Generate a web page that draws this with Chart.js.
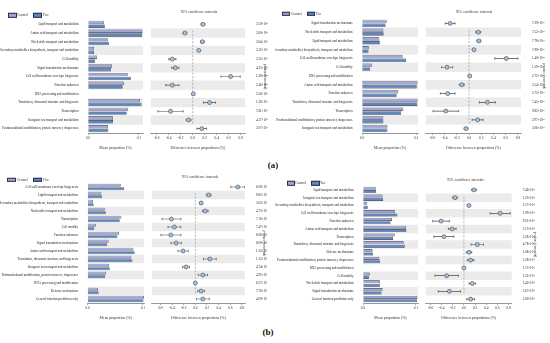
<!DOCTYPE html>
<html>
<head>
<meta charset="utf-8">
<script src="https://cdn.jsdelivr.net/npm/chart.js@4.4.1/dist/chart.umd.min.js"></script>
<style>
  html, body { margin: 0; padding: 0; background: #fff; }
  body { width: 550px; height: 343px; position: relative; overflow: hidden; font-family: 'Liberation Serif', serif; color: #333; }
  canvas { position: absolute; }
  .txt { position: absolute; white-space: nowrap; transform: translate(0, -50%); }
  .sw { position: absolute; width: 6.6px; height: 2.4px; border: 0.6px solid #2d2d4d; transform: translate(0, -50%); }
  .small { font-size: 3.6px; line-height: 4px; }
  .tag { font-size: 9px; font-weight: bold; color: #111; transform: translate(-50%, -50%); }
  .ctr { transform: translate(-50%, -50%); }
</style>
</head>
<body>
<script>
// ---- (a) left: Control vs Fire ----
var catsA1 = ['Lipid transport and metabolism', 'Amino acid transport and metabolism', 'Nucleotide transport and metabolism',
  'Secondary metabolites biosynthesis, transport and catabolism', 'Cell motility', 'Signal transduction mechanisms',
  'Cell wall/membrane/envelope biogenesis', 'Function unknown', 'RNA processing and modification',
  'Translation, ribosomal structure and biogenesis', 'Transcription', 'Inorganic ion transport and metabolism',
  'Posttranslational modification, protein turnover, chaperones'];
var controlA1 = [0.031, 0.107, 0.039, 0.012, 0.018, 0.047, 0.078, 0.071, 0.0004, 0.102, 0.079, 0.049, 0.039];
var fireA1 = [0.033, 0.106, 0.041, 0.012, 0.014, 0.045, 0.084, 0.068, 0.0004, 0.105, 0.076, 0.049, 0.040];
var diffA1 = [0.17, -0.13, 0.16, 0.10, -0.34, -0.29, 0.63, -0.34, 0.01, 0.28, -0.37, -0.07, 0.15];
var ciA1 = [0.03, 0.03, 0.03, 0.02, 0.06, 0.06, 0.16, 0.11, 0.005, 0.10, 0.21, 0.04, 0.08];
var pA1 = ['3.59×10⁻⁵', '2.60×10⁻⁵', '3.64×10⁻⁵', '3.32×10⁻⁵', '3.35×10⁻³', '4.23×10⁻³', '1.28×10⁻³',
  '2.48×10⁻³', '2.56×10⁻¹', '1.36×10⁻³', '7.61×10⁻³', '4.37×10⁻³', '2.07×10⁻³'];

// ---- (a) right: Control vs Tea ----
var catsA2 = ['Signal transduction mechanisms', 'Nucleotide transport and metabolism', 'Lipid transport and metabolism',
  'Secondary metabolites biosynthesis, transport and catabolism', 'Cell wall/membrane/envelope biogenesis', 'Cell motility',
  'RNA processing and modification', 'Amino acid transport and metabolism', 'Function unknown',
  'Translation, ribosomal structure and biogenesis', 'Transcription',
  'Posttranslational modification, protein turnover, chaperones', 'Inorganic ion transport and metabolism'];
var controlA2 = [0.091, 0.079, 0.064, 0.025, 0.150, 0.036, 0.001, 0.205, 0.134, 0.205, 0.153, 0.079, 0.094];
var teaA2 = [0.087, 0.080, 0.066, 0.024, 0.163, 0.030, 0.001, 0.202, 0.128, 0.204, 0.145, 0.079, 0.094];
var diffA2 = [-0.31, 0.15, 0.16, 0.08, 0.61, -0.36, 0.01, -0.12, -0.35, 0.30, -0.38, 0.14, -0.05];
var ciA2 = [0.08, 0.04, 0.03, 0.02, 0.19, 0.09, 0.005, 0.04, 0.12, 0.13, 0.21, 0.09, 0.03];
var pA2 = ['7.39×10⁻³', '7.53×10⁻³', '7.78×10⁻³', '7.99×10⁻³', '1.40×10⁻²', '1.59×10⁻³', '2.72×10⁻¹',
  '3.54×10⁻³', '3.72×10⁻³', '7.45×10⁻³', '9.82×10⁻³', '2.97×10⁻²', '3.06×10⁻³'];

// ---- (b) left: Control vs Fire ----
var catsB1 = ['Cell wall/membrane/envelope biogenesis', 'Lipid transport and metabolism',
  'Secondary metabolites biosynthesis, transport and catabolism', 'Nucleotide transport and metabolism', 'Transcription',
  'Cell motility', 'Function unknown', 'Signal transduction mechanisms', 'Amino acid transport and metabolism',
  'Translation, ribosomal structure and biogenesis', 'Inorganic ion transport and metabolism',
  'Posttranslational modification, protein turnover, chaperones', 'RNA processing and modification',
  'Defense mechanisms', 'General function prediction only'];
var controlB1 = [0.060, 0.025, 0.010, 0.031, 0.061, 0.015, 0.057, 0.038, 0.083, 0.079, 0.039, 0.033, 0.0005, 0.019, 0.102];
var fireB1 = [0.066, 0.026, 0.011, 0.033, 0.058, 0.012, 0.054, 0.035, 0.085, 0.081, 0.040, 0.032, 0.0005, 0.020, 0.101];
var diffB1 = [0.73, 0.23, 0.10, 0.17, -0.41, -0.36, -0.42, -0.33, -0.21, 0.25, -0.16, 0.13, 0.0, 0.10, 0.13];
var ciB1 = [0.12, 0.04, 0.02, 0.05, 0.16, 0.11, 0.17, 0.09, 0.09, 0.11, 0.06, 0.08, 0.005, 0.06, 0.11];
var pB1 = ['6.09×10⁻³', '9.85×10⁻³', '3.63×10⁻³', '4.73×10⁻³', '7.10×10⁻³', '7.47×10⁻³', '8.06×10⁻³',
  '8.09×10⁻³', '1.32×10⁻²', '1.33×10⁻²', '4.74×10⁻³', '4.95×10⁻³', '6.27×10⁻¹', '7.76×10⁻³', '4.09×10⁻²'];

// ---- (b) right: Control vs Tea ----
var catsB2 = ['Lipid transport and metabolism', 'Inorganic ion transport and metabolism',
  'Secondary metabolites biosynthesis, transport and catabolism', 'Cell wall/membrane/envelope biogenesis',
  'Function unknown', 'Amino acid transport and metabolism', 'Transcription',
  'Translation, ribosomal structure and biogenesis', 'Defense mechanisms',
  'Posttranslational modification, protein turnover, chaperones', 'RNA processing and modification', 'Cell motility',
  'Nucleotide transport and metabolism', 'Signal transduction mechanisms', 'General function prediction only'];
var controlB2 = [0.024, 0.037, 0.008, 0.060, 0.055, 0.081, 0.060, 0.077, 0.018, 0.031, 0.0005, 0.013, 0.032, 0.037, 0.103];
var teaB2 = [0.025, 0.038, 0.009, 0.065, 0.052, 0.082, 0.057, 0.079, 0.019, 0.032, 0.0005, 0.011, 0.032, 0.035, 0.102];
var diffB2 = [0.18, -0.16, 0.09, 0.65, -0.41, -0.21, -0.36, 0.24, 0.09, 0.12, 0.0, -0.31, 0.15, -0.26, 0.12];
var ciB2 = [0.04, 0.04, 0.02, 0.18, 0.15, 0.07, 0.18, 0.11, 0.05, 0.06, 0.005, 0.21, 0.06, 0.20, 0.07];
var pB2 = ['7.46×10⁻³', '1.23×10⁻³', '1.57×10⁻³', '1.99×10⁻³', '9.01×10⁻³', '1.13×10⁻³', '5.28×10⁻³',
  '4.78×10⁻³', '1.08×10⁻³', '1.28×10⁻³', '1.57×10⁻¹', '2.32×10⁻³', '2.43×10⁻³', '3.67×10⁻³', '5.00×10⁻³'];

var meanTicksSmall = [0, 0.1];
var meanTicksWide = [0, 0.2];
var diffTicks = [-0.6, -0.4, -0.2, 0, 0.2, 0.4, 0.6, 0.8];

var CTRL = '#a4a7d2', TRT = '#5b89ba', EDGE = '#2a2a48', BAND = '#ebebeb', AXIS = '#6a6a6a';

Chart.defaults.font.family = "'Liberation Serif', serif";
Chart.defaults.color = '#333';

function makeCanvas(box) {
    var c = document.createElement('canvas');
    c.width = box.width; c.height = box.height;
    c.style.left = box.left + 'px'; c.style.top = box.top + 'px';
    document.body.appendChild(c);
    return c;
}

function addText(text, x, y, cls) {
    var d = document.createElement('div');
    d.className = 'txt ' + cls;
    d.textContent = text;
    d.style.left = x + 'px'; d.style.top = y + 'px';
    document.body.appendChild(d);
}

function addLegend(y, xs, names) {
    var colors = [CTRL, TRT];
    for (var i = 0; i < 2; i++) {
        var s = document.createElement('div');
        s.className = 'sw';
        s.style.background = colors[i];
        s.style.left = xs[i * 2] + 'px'; s.style.top = y + 'px';
        document.body.appendChild(s);
        addText(names[i], xs[i * 2 + 1], y, 'small');
    }
}

function meanChart(box, cats, ctrl, trt, trtName, max, ticks) {
    return new Chart(makeCanvas(box), {
        type: 'bar',
        data: {
            labels: cats,
            datasets: [
                { label: 'band', data: cats.map(function(c, i) { return i % 2 ? max : null; }),
                  backgroundColor: BAND, grouped: false, barPercentage: 1, categoryPercentage: 1, order: 5 },
                { label: 'Control', data: ctrl, backgroundColor: CTRL, borderColor: EDGE, borderWidth: 0.6,
                  barPercentage: 0.92, categoryPercentage: 0.86, order: 1 },
                { label: trtName, data: trt, backgroundColor: TRT, borderColor: EDGE, borderWidth: 0.6,
                  barPercentage: 0.92, categoryPercentage: 0.86, order: 1 }
            ]
        },
        options: {
            indexAxis: 'y', responsive: false, animation: false,
            layout: { padding: { left: 0, right: box.padR, top: box.padT, bottom: 0 } },
            plugins: { legend: { display: false }, tooltip: { enabled: false } },
            scales: {
                x: {
                    type: 'linear', min: 0, max: max,
                    afterBuildTicks: function(s) { s.ticks = ticks.map(function(v) { return { value: v }; }); },
                    afterFit: function(s) { s.height = box.axisH; },
                    ticks: { callback: function(v) { return Number(v).toFixed(1); }, font: { size: 3.5 }, padding: 1, maxRotation: 0 },
                    grid: { drawOnChartArea: false, tickLength: 2, color: AXIS, lineWidth: 0.6 },
                    border: { color: AXIS, width: 0.7 },
                    title: { display: true, text: 'Mean proportion (%)', font: { size: 3.8 }, padding: { top: 0, bottom: 1.6 } }
                },
                y: {
                    type: 'category', offset: true,
                    afterFit: function(s) { s.width = box.axisW; },
                    grid: { display: false }, border: { display: false },
                    ticks: { autoSkip: false, font: { size: 3.2 }, padding: 1.5, color: '#222' }
                }
            }
        }
    });
}

function diffChart(box, cats, diff, ci, pv, min, max) {
    var caps = [];
    diff.forEach(function(d, i) {
        caps.push({ x: d - ci[i], y: cats[i] });
        caps.push({ x: d + ci[i], y: cats[i] });
    });
    return new Chart(makeCanvas(box), {
        type: 'bar',
        data: {
            labels: cats,
            datasets: [
                { type: 'line', data: [{ x: 0, y: 0 }, { x: 0, y: 1 }], yAxisID: 'yz', borderColor: '#8a8a8a',
                  borderWidth: 0.6, borderDash: [2, 1.5], pointRadius: 0, order: 2 },
                { data: cats.map(function(c, i) { return i % 2 ? [min, max] : null; }), backgroundColor: BAND,
                  grouped: false, barPercentage: 1, categoryPercentage: 1, order: 5 },
                { data: diff.map(function(d, i) { return [d - ci[i], d + ci[i]]; }), backgroundColor: '#4a4a4a',
                  grouped: false, maxBarThickness: 0.7, order: 1 },
                { type: 'scatter', data: caps, pointStyle: 'line', rotation: 90, radius: 1.2,
                  borderColor: '#4a4a4a', borderWidth: 0.7, order: 0 },
                { type: 'scatter', data: diff.map(function(d, i) { return { x: d, y: cats[i] }; }),
                  pointStyle: 'circle', radius: 2, backgroundColor: '#a9c4dc', borderColor: '#485c70',
                  borderWidth: 0.7, order: -1 }
            ]
        },
        options: {
            indexAxis: 'y', responsive: false, animation: false,
            layout: { padding: { left: box.padL, right: 0, top: box.padT, bottom: 0 } },
            plugins: { legend: { display: false }, tooltip: { enabled: false } },
            scales: {
                x: {
                    type: 'linear', min: min, max: max,
                    afterBuildTicks: function(s) { s.ticks = diffTicks.map(function(v) { return { value: v }; }); },
                    afterFit: function(s) { s.height = box.axisH; },
                    ticks: { callback: function(v) { return Number(v).toFixed(1); }, font: { size: 3.5 }, padding: 1, maxRotation: 0 },
                    grid: { drawOnChartArea: false, tickLength: 2, color: AXIS, lineWidth: 0.6 },
                    border: { color: AXIS, width: 0.7 },
                    title: { display: true, text: 'Difference between proportions (%)', font: { size: 3.8 }, padding: { top: 0, bottom: 1.6 } }
                },
                y: {
                    type: 'category', position: 'right', offset: true,
                    afterFit: function(s) { s.width = box.axisW; },
                    grid: { display: false }, border: { display: false },
                    ticks: { autoSkip: false, font: { size: 3.2 }, padding: 3, color: '#222',
                             callback: function(v, i) { return pv[i]; } },
                    title: { display: true, text: 'p-values (corrected)', font: { size: 3.2 }, padding: { top: 1.5, bottom: 0 } }
                },
                yz: { type: 'linear', min: 0, max: 1, display: false }
            }
        }
    });
}

// panel (a)
meanChart({ left: 0, top: 0, width: 146, height: 152, axisW: 88, padR: 3, padT: 20, axisH: 19 },
    catsA1, controlA1, fireA1, 'Fire', 0.108, meanTicksSmall);
diffChart({ left: 146, top: 0, width: 122, height: 152, padL: 3, axisW: 23, padT: 20, axisH: 19 },
    catsA1, diffA1, ciA1, pA1, -0.70, 0.87);
meanChart({ left: 275, top: 0, width: 146, height: 152, axisW: 87, padR: 3, padT: 19, axisH: 19 },
    catsA2, controlA2, teaA2, 'Tea', 0.207, meanTicksWide);
diffChart({ left: 421, top: 0, width: 126, height: 152, padL: 3, axisW: 26, padT: 19, axisH: 19 },
    catsA2, diffA2, ciA2, pA2, -0.71, 0.85);

// panel (b)
meanChart({ left: 0, top: 165, width: 147, height: 157, axisW: 87.5, padR: 3, padT: 18, axisH: 19 },
    catsB1, controlB1, fireB1, 'Fire', 0.102, meanTicksSmall);
diffChart({ left: 147, top: 165, width: 120, height: 157, padL: 1.3, axisW: 22, padT: 18, axisH: 19 },
    catsB1, diffB1, ciB1, pB1, -0.75, 0.854);
meanChart({ left: 275, top: 165, width: 146, height: 157, axisW: 88, padR: 3, padT: 21, axisH: 19 },
    catsB2, controlB2, teaB2, 'Tea', 0.104, meanTicksSmall);
diffChart({ left: 421, top: 165, width: 117, height: 157, padL: 0.7, axisW: 26.3, padT: 21, axisH: 19 },
    catsB2, diffB2, ciB2, pB2, -0.686, 0.857);

// legends, titles and panel tags
addLegend(15.3, [8.3, 17, 33, 43], ['Control', 'Fire']);
addLegend(14, [281.7, 290.7, 306.7, 315.7], ['Control', 'Tea']);
addLegend(180, [7.3, 16.7, 33.3, 43.3], ['Control', 'Fire']);
addLegend(183.3, [286.7, 295, 311, 320], ['Control', 'Tea']);

addText('95% confidence intervals', 199, 12.3, 'small ctr');
addText('95% confidence intervals', 474, 12.3, 'small ctr');
addText('95% confidence intervals', 200, 176.7, 'small ctr');
addText('95% confidence intervals', 465.5, 180, 'small ctr');

addText('(a)', 273, 165, 'tag');
addText('(b)', 268, 332, 'tag');
</script>
</body>
</html>
